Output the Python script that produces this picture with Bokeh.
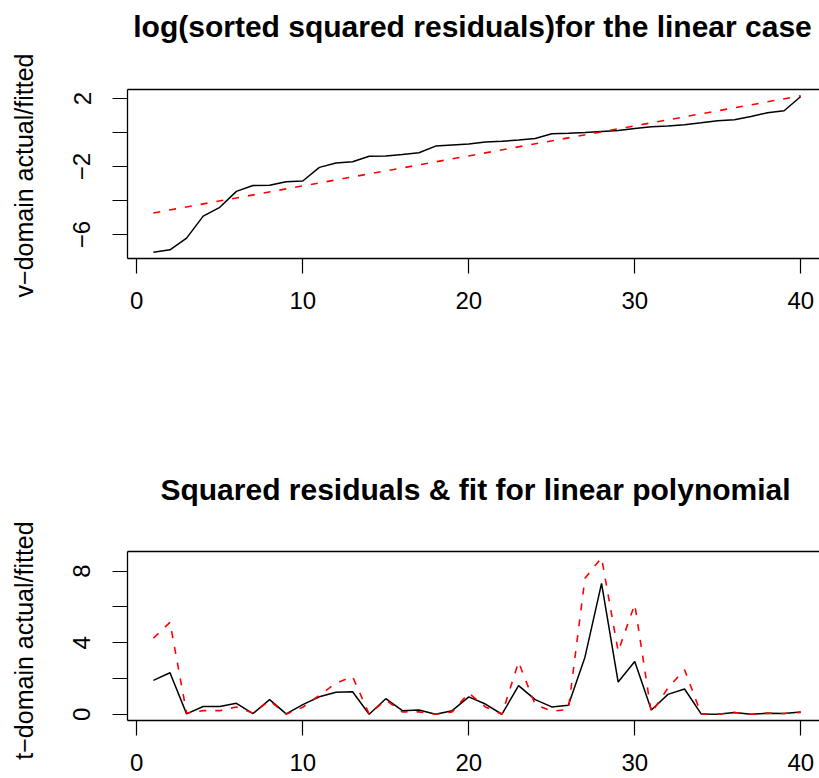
import math
from bokeh.plotting import figure
from bokeh.models import FixedTicker, LinearAxis, Range1d, Label
from bokeh.layouts import column, row
from bokeh.embed import file_html
from bokeh.resources import INLINE

# ---------------- data ----------------
index = list(range(1, 41))

log_sorted_sq_resid = [-7.04, -6.90, -6.21, -4.92, -4.40, -3.46, -3.12, -3.10, -2.89, -2.85,
                       -2.05, -1.79, -1.72, -1.40, -1.38, -1.29, -1.19, -0.80, -0.74, -0.68,
                       -0.56, -0.52, -0.44, -0.35, -0.07, -0.05, 0.00, 0.06, 0.12, 0.24,
                       0.34, 0.38, 0.46, 0.57, 0.69, 0.75, 0.94, 1.16, 1.28, 2.12]
fit_x = [1, 40]
fit_y = [-4.73, 2.16]

sq_resid = [1.89, 2.32, 0.02, 0.43, 0.43, 0.61, 0.04, 0.82, 0.02, 0.54,
            0.98, 1.23, 1.26, 0.00, 0.87, 0.20, 0.24, 0.00, 0.20, 0.97,
            0.57, 0.00, 1.60, 0.82, 0.41, 0.50, 3.19, 7.32, 1.80, 2.95,
            0.24, 1.11, 1.41, 0.02, 0.00, 0.10, 0.00, 0.06, 0.04, 0.13]
sq_fit = [4.25, 5.14, 0.07, 0.20, 0.20, 0.41, 0.06, 0.76, 0.00, 0.39,
          1.06, 1.74, 2.10, 0.00, 0.80, 0.13, 0.13, 0.00, 0.13, 1.19,
          0.41, 0.00, 2.92, 0.54, 0.17, 0.26, 7.60, 8.75, 3.51, 6.15,
          0.07, 1.47, 2.49, 0.02, 0.00, 0.10, 0.00, 0.06, 0.04, 0.10]

x_ticks = [0, 10, 20, 30, 40]
top_y_ticks = [-6, -4, -2, 0, 2]
top_y_labels = {-6: "\u22126", -4: "", -2: "\u22122", 0: "", 2: "2"}
bot_y_ticks = [0, 2, 4, 6, 8]
bot_y_labels = {0: "0", 2: "", 4: "4", 6: "", 8: "8"}
y_titles = ["v\u2212domain actual/fitted", "t\u2212domain actual/fitted"]

FONT = "Liberation Sans"
STRIP = 40


def blank_fig(width, height, left=0):
    t = figure(width=width, height=height, title=None,
               x_range=Range1d(0, 1), y_range=Range1d(0, 1),
               x_axis_location=None, y_axis_location=None,
               output_backend="svg", toolbar_location=None,
               min_border_left=left, min_border_right=0,
               min_border_top=0, min_border_bottom=0,
               background_fill_color="white", border_fill_color="white")
    t.outline_line_color = None
    t.grid.visible = False
    return t


def title_fig(text, height, cx, by):
    t = blank_fig(819 - STRIP, height, left=127 - STRIP)
    t.add_layout(Label(x=cx, y=by, x_units="screen", y_units="screen",
                       text=text, text_align="center", text_baseline="alphabetic",
                       text_font=FONT, text_font_size="30px", text_font_style="bold",
                       text_color="black"))
    return t


def make_fig(yr, yticks, ylabels, height, bottom):
    p = figure(width=819 - STRIP, height=height, title=None,
               x_range=Range1d(-0.56, 41.13), y_range=Range1d(*yr),
               output_backend="svg", toolbar_location=None,
               min_border_left=127 - STRIP, min_border_right=0,
               min_border_top=3, min_border_bottom=bottom,
               background_fill_color="white", border_fill_color="white")
    p.outline_line_color = None
    p.grid.visible = False

    for ax in (p.xaxis[0], p.yaxis[0]):
        ax.axis_line_color = "black"
        ax.axis_line_width = 1.3
        ax.major_tick_line_color = "black"
        ax.major_tick_line_width = 1.2
        ax.major_tick_out = 15
        ax.major_tick_in = 0
        ax.minor_tick_line_color = None
        ax.major_label_text_font = FONT
        ax.major_label_text_font_size = "24px"
        ax.major_label_text_color = "black"

    p.xaxis[0].ticker = FixedTicker(ticks=x_ticks)
    p.xaxis[0].major_label_standoff = 18

    p.yaxis[0].ticker = FixedTicker(ticks=yticks)
    p.yaxis[0].major_label_overrides = ylabels
    p.yaxis[0].major_label_orientation = "vertical"
    p.yaxis[0].major_label_standoff = 22

    top_ax = LinearAxis(ticker=FixedTicker(ticks=[]), axis_line_color="black",
                        axis_line_width=1.3, major_tick_out=0, major_tick_in=0,
                        minor_tick_out=0, minor_tick_in=0, major_label_standoff=0,
                        major_label_text_font_size="0px")
    p.add_layout(top_ax, "above")
    return p


# left strip holding the two y-axis titles
strip = blank_fig(STRIP, 778)
for txt, cy in zip(y_titles, [778 - 175, 778 - 640]):
    strip.add_layout(Label(x=23, y=cy, x_units="screen", y_units="screen",
                           text=txt, angle=math.pi / 2, text_align="center",
                           text_baseline="middle", text_font=FONT,
                           text_font_size="25px", text_color="black"))

t1 = title_fig("log(sorted squared residuals)for the linear case", 86, 345, 60)
p1 = make_fig((-7.41, 2.53), top_y_ticks, top_y_labels, 300, 128)
p1.line(index, log_sorted_sq_resid, line_color="black", line_width=1.5)
p1.line(fit_x, fit_y, line_color="#ff0000", line_width=1.6, line_dash="7 9")

t2 = title_fig("Squared residuals & fit for linear polynomial", 162, 348, 59)
p2 = make_fig((-0.35, 9.1), bot_y_ticks, bot_y_labels, 230, 58)
p2.line(index, sq_resid, line_color="black", line_width=1.5)
p2.line(index, sq_fit, line_color="#ff0000", line_width=1.6, line_dash="7 9")

layout = row(strip, column(t1, p1, t2, p2, spacing=0), spacing=0)
open("out.html", "w").write(file_html(layout, INLINE))
